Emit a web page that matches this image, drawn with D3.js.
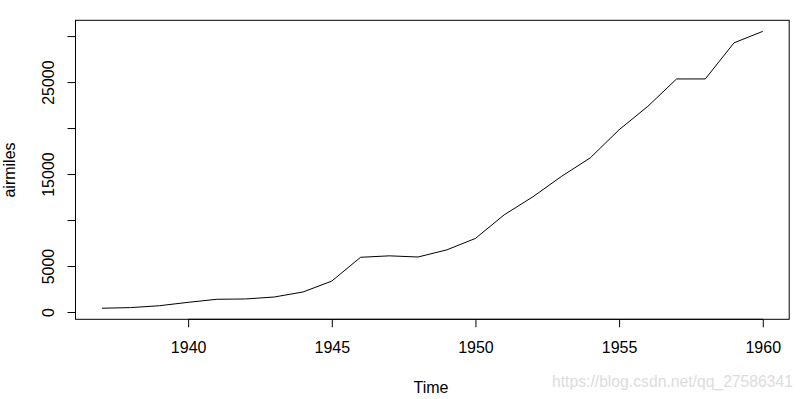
<!DOCTYPE html>
<html>
<head>
<meta charset="utf-8">
<script src="https://d3js.org/d3.v7.min.js"></script>
<style>
body { margin: 0; background: #fff; }
text { font-family: Arial, "Liberation Sans", sans-serif; }
</style>
</head>
<body>
<script>
// airmiles, 1937-1960
var years = d3.range(1937, 1961)
var miles = [412, 480, 683, 1052, 1385, 1418, 1634, 2178, 3362, 5948, 6109, 5981,
  6753, 8003, 10566, 12528, 14760, 16769, 19819, 22362, 25340, 25343, 29269, 30514]
var xTicks = [1940, 1945, 1950, 1955, 1960]
var yTicks = [0, 5000, 10000, 15000, 20000, 25000, 30000]
var yLabels = [0, 5000, 15000, 25000]

var W = 802
var H = 399
var plotL = 75.5
var plotR = 789.2
var plotT = 20.3
var plotB = 319.3

var svg = d3.select('body').append('svg').attr('width', W).attr('height', H)

// R style 4% padding on both axes
var xPad = (d3.max(years) - d3.min(years)) * 0.04
var yPad = (d3.max(miles) - d3.min(miles)) * 0.04
var x = d3.scaleLinear().domain([d3.min(years) - xPad, d3.max(years) + xPad]).range([plotL, plotR])
var y = d3.scaleLinear().domain([d3.min(miles) - yPad, d3.max(miles) + yPad]).range([plotB, plotT])

svg.append('rect')
  .attr('x', plotL).attr('y', plotT)
  .attr('width', plotR - plotL).attr('height', plotB - plotT)
  .attr('fill', 'none').attr('stroke', '#000').attr('stroke-width', 1)

var line = d3.line().x(function (d, i) { return x(years[i]) }).y(function (d) { return y(d) })
svg.append('path').datum(miles)
  .attr('d', line).attr('fill', 'none').attr('stroke', '#000').attr('stroke-width', 1)

// x axis
var xa = svg.append('g').attr('transform', 'translate(0,' + plotB + ')')
  .call(d3.axisBottom(x).tickValues(xTicks).tickSize(8).tickPadding(14).tickFormat(d3.format('d')))
xa.select('.domain').attr('d', 'M' + x(1940) + ',0H' + x(1960))
xa.selectAll('text').attr('font-size', 16).attr('font-family', 'Arial, "Liberation Sans", sans-serif').attr('fill', '#000')

// y axis
var ya = svg.append('g').attr('transform', 'translate(' + plotL + ',0)')
  .call(d3.axisLeft(y).tickValues(yTicks).tickSize(8).tickFormat(function (d) {
    return yLabels.indexOf(d) >= 0 ? d : ''
  }))
ya.select('.domain').attr('d', 'M0,' + y(0) + 'V' + y(30000))
ya.selectAll('.tick text')
  .attr('font-size', 16).attr('font-family', 'Arial, "Liberation Sans", sans-serif').attr('fill', '#000')
  .attr('text-anchor', 'middle').attr('x', 0).attr('dy', 0)
  .attr('transform', 'translate(-22,0) rotate(-90)')

svg.append('text').attr('x', 431).attr('y', 392.5)
  .attr('text-anchor', 'middle').attr('font-size', 16).text('Time')

svg.append('text').attr('transform', 'translate(15,170) rotate(-90)')
  .attr('text-anchor', 'middle').attr('font-size', 16).text('airmiles')

svg.append('text').attr('x', 552).attr('y', 387)
  .attr('font-size', 16).attr('fill', '#dcdcdc')
  .attr('textLength', 241).attr('lengthAdjust', 'spacingAndGlyphs')
  .text('https://blog.csdn.net/qq_27586341')
</script>
</body>
</html>
